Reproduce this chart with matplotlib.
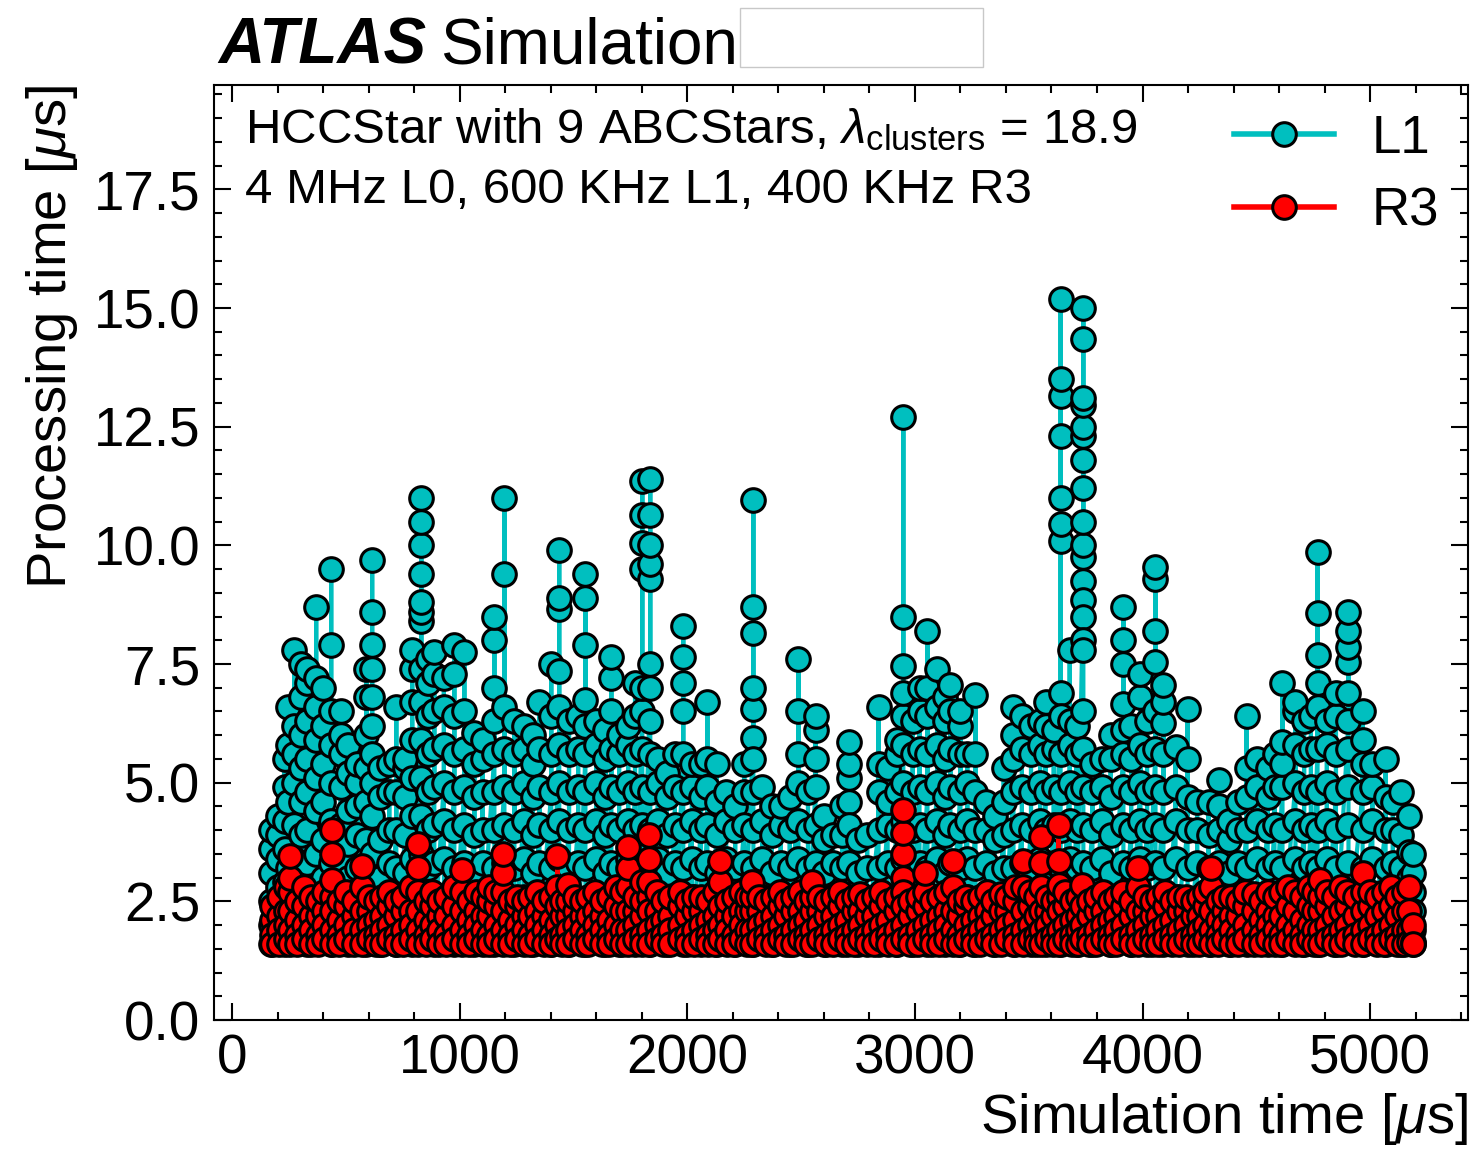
import matplotlib
matplotlib.use("Agg")
import matplotlib.pyplot as plt
from matplotlib.ticker import MultipleLocator, FormatStrFormatter
from matplotlib.patches import Rectangle

plt.rcParams['font.family'] = ['Liberation Sans', 'DejaVu Sans']
plt.rcParams['mathtext.fontset'] = 'custom'
plt.rcParams['mathtext.rm'] = 'Liberation Sans'
plt.rcParams['mathtext.it'] = 'Liberation Sans:italic'
plt.rcParams['mathtext.bf'] = 'Liberation Sans:bold'

# L1 processing times [us], grouped in bursts of events at (nearly) the same simulation time [us]
l1_time = [170, 200, 230, 246, 272, 300, 330, 369, 400, 435,
           479, 510, 550, 590, 615, 650, 690, 721, 760, 791,
           831, 860, 888, 930, 976, 1020, 1064, 1100, 1152, 1196,
           1240, 1280, 1320, 1350, 1402, 1437, 1480, 1520, 1552, 1600,
           1640, 1666, 1700, 1740, 1770, 1802, 1837, 1870, 1910, 1945,
           1982, 2020, 2060, 2088, 2130, 2170, 2210, 2250, 2290, 2330,
           2370, 2410, 2450, 2488, 2530, 2563, 2600, 2640, 2680, 2708,
           2750, 2790, 2840, 2880, 2920, 2949, 2990, 3020, 3055, 3099,
           3130, 3156, 3200, 3230, 3266, 3310, 3350, 3390, 3433, 3470,
           3510, 3550, 3574, 3610, 3640, 3680, 3710, 3740, 3780, 3820,
           3860, 3916, 3950, 3991, 4020, 4057, 4092, 4145, 4198, 4240,
           4290, 4334, 4380, 4420, 4457, 4505, 4550, 4580, 4615, 4672,
           4710, 4740, 4769, 4810, 4850, 4905, 4967, 5010, 5068, 5100,
           5134, 5169, 5190]
l1_proc = [
    [1.6, 2.0, 2.5, 3.1, 3.6, 4.0],
    [1.7, 2.2, 2.8, 3.4, 3.9, 4.3],
    [1.6, 2.3, 2.9, 3.6, 4.2, 4.9, 5.5],
    [2.0, 3.2, 4.6, 5.8, 6.6],
    [1.8, 2.6, 3.4, 4.1, 5.0, 5.6, 6.2, 7.8],
    [1.7, 2.4, 3.1, 3.9, 4.6, 5.3, 6.0, 6.8, 7.5],
    [1.6, 2.5, 3.3, 4.0, 4.8, 5.5, 6.3, 7.1, 7.4],
    [1.8, 2.7, 3.5, 4.4, 5.1, 5.9, 6.6, 7.2, 8.7],
    [1.7, 2.3, 3.0, 3.8, 4.6, 5.4, 6.2, 7.0],
    [1.6, 2.4, 3.3, 4.2, 5.0, 5.8, 6.5, 7.9, 9.5],
    [1.7, 2.6, 3.4, 4.1, 4.9, 5.6, 6.0, 6.5],
    [1.6, 2.2, 3.0, 3.7, 4.4, 5.2, 5.8],
    [1.8, 2.5, 3.2, 3.9, 4.5, 5.0, 5.4],
    [1.6, 2.3, 3.1, 3.8, 4.6, 5.3, 6.0, 6.8, 7.4],
    [1.7, 2.6, 3.5, 4.3, 5.0, 5.6, 6.2, 6.8, 7.4, 7.9, 8.6, 9.7],
    [1.6, 2.3, 3.0, 3.8, 4.7, 5.3],
    [1.8, 2.5, 3.3, 4.0, 4.8, 5.4],
    [1.6, 2.4, 3.2, 4.0, 4.8, 5.5, 6.6],
    [1.7, 2.3, 3.1, 3.9, 4.7, 5.3, 5.5],
    [1.6, 2.5, 3.4, 4.3, 5.1, 5.9, 6.7, 7.4, 7.8],
    [1.8, 2.6, 3.5, 4.3, 5.1, 5.9, 6.7, 7.4, 8.4, 8.6, 8.8, 9.4, 10.0, 10.5, 11.0],
    [1.7, 2.4, 3.2, 4.0, 4.8, 5.6, 6.4, 7.1, 7.6],
    [1.6, 2.5, 3.3, 4.1, 4.9, 5.7, 6.5, 7.3, 7.75],
    [1.8, 2.6, 3.4, 4.2, 5.0, 5.8, 6.6, 7.2],
    [1.6, 2.4, 3.2, 4.0, 4.8, 5.6, 6.4, 7.3, 7.9],
    [1.7, 2.5, 3.3, 4.1, 4.9, 5.7, 6.5, 7.75],
    [1.6, 2.3, 3.1, 3.9, 4.7, 5.4, 6.05],
    [1.8, 2.5, 3.3, 4.0, 4.8, 5.5, 5.9],
    [1.6, 2.4, 3.2, 4.0, 4.8, 5.6, 6.3, 7.0, 8.0, 8.5],
    [1.7, 2.5, 3.3, 4.1, 4.9, 5.7, 6.6, 9.4, 11.0],
    [1.6, 2.4, 3.2, 4.0, 4.8, 5.6, 6.3],
    [1.8, 2.6, 3.4, 4.2, 5.0, 5.7, 6.2],
    [1.6, 2.3, 3.1, 3.9, 4.7, 5.4, 6.0],
    [1.7, 2.5, 3.3, 4.1, 4.9, 5.7, 6.7],
    [1.6, 2.4, 3.2, 4.0, 4.8, 5.6, 6.4, 7.5],
    [1.8, 2.6, 3.4, 4.2, 5.0, 5.8, 6.6, 7.35, 8.65, 8.9, 9.9],
    [1.6, 2.4, 3.2, 4.0, 4.8, 5.6, 6.3],
    [1.7, 2.5, 3.3, 4.1, 4.9, 5.7, 6.4],
    [1.6, 2.4, 3.2, 4.0, 4.8, 5.6, 6.2, 6.75, 7.9, 8.9, 9.4],
    [1.8, 2.6, 3.4, 4.2, 5.0, 5.8, 6.3],
    [1.6, 2.3, 3.1, 3.9, 4.7, 5.5, 6.1],
    [1.7, 2.5, 3.3, 4.1, 4.9, 5.7, 6.5, 7.2, 7.65],
    [1.6, 2.4, 3.2, 4.0, 4.8, 5.6, 6.0],
    [1.8, 2.6, 3.4, 4.2, 5.0, 5.8, 6.2],
    [1.6, 2.4, 3.2, 4.0, 4.8, 5.6, 6.4, 7.1],
    [1.7, 2.5, 3.3, 4.1, 4.9, 5.7, 6.5, 7.0, 9.5, 10.05, 10.65, 11.35],
    [1.6, 2.4, 3.2, 4.0, 4.8, 5.6, 6.3, 7.0, 7.5, 9.3, 9.6, 10.0, 10.65, 11.4],
    [1.8, 2.6, 3.4, 4.2, 5.0, 5.5],
    [1.6, 2.3, 3.1, 3.9, 4.7, 5.2],
    [1.7, 2.5, 3.3, 4.1, 4.9, 5.6],
    [1.6, 2.4, 3.2, 4.0, 4.8, 5.6, 6.5, 7.1, 7.65, 8.3],
    [1.8, 2.6, 3.4, 4.2, 4.9, 5.4],
    [1.6, 2.4, 3.2, 4.0, 4.7, 5.4],
    [1.7, 2.5, 3.3, 4.1, 4.9, 5.5, 6.7],
    [1.6, 2.3, 3.1, 3.9, 4.6, 5.4],
    [1.8, 2.6, 3.4, 4.2, 4.8],
    [1.6, 2.4, 3.2, 4.0, 4.5],
    [1.7, 2.5, 3.3, 4.1, 4.8, 5.4],
    [1.6, 2.4, 3.2, 4.0, 4.8, 5.5, 5.95, 6.55, 7.0, 8.15, 8.7, 10.95],
    [1.8, 2.6, 3.4, 4.2, 4.9],
    [1.6, 2.3, 3.1, 3.9, 4.5],
    [1.7, 2.5, 3.3, 4.1, 4.5],
    [1.6, 2.4, 3.2, 4.0, 4.7],
    [1.8, 2.6, 3.4, 4.2, 5.0, 5.6, 6.5, 7.6],
    [1.6, 2.4, 3.2, 4.0, 4.8],
    [1.7, 2.5, 3.3, 4.1, 4.9, 5.5, 6.1, 6.4],
    [1.6, 2.3, 3.1, 3.8, 4.3],
    [1.8, 2.6, 3.3, 3.9],
    [1.6, 2.4, 3.2, 3.9, 4.5],
    [1.7, 2.5, 3.3, 4.1, 4.6, 5.1, 5.4, 5.85],
    [1.6, 2.4, 3.1, 3.8],
    [1.8, 2.5, 3.2, 3.9],
    [1.6, 2.4, 3.2, 4.0, 4.8, 5.4, 6.6],
    [1.7, 2.5, 3.3, 4.1, 4.6, 5.3],
    [1.6, 2.4, 3.2, 4.0, 4.8, 5.6, 5.9],
    [1.8, 2.6, 3.4, 4.2, 5.0, 5.8, 6.4, 6.9, 7.45, 8.5, 12.7],
    [1.6, 2.4, 3.2, 4.0, 4.8, 5.6, 6.3],
    [1.7, 2.5, 3.3, 4.1, 4.9, 5.7, 6.5, 7.0],
    [1.6, 2.4, 3.2, 4.0, 4.8, 5.6, 6.4, 7.0, 8.2],
    [1.8, 2.6, 3.4, 4.2, 5.0, 5.8, 6.6, 7.4],
    [1.6, 2.3, 3.1, 3.9, 4.7, 5.5, 6.3, 6.8],
    [1.7, 2.5, 3.3, 4.1, 4.9, 5.7, 6.5, 7.05],
    [1.6, 2.4, 3.2, 4.0, 4.8, 5.6, 6.2, 6.5],
    [1.8, 2.6, 3.4, 4.2, 5.0, 5.6],
    [1.6, 2.4, 3.2, 4.0, 4.8, 5.6, 6.85],
    [1.7, 2.5, 3.3, 4.0, 4.6],
    [1.6, 2.4, 3.1, 3.8, 4.3],
    [1.8, 2.5, 3.2, 3.9, 4.6, 5.3],
    [1.6, 2.4, 3.2, 4.0, 4.8, 5.5, 6.0, 6.6],
    [1.7, 2.5, 3.3, 4.1, 4.9, 5.7, 6.4],
    [1.6, 2.4, 3.2, 4.0, 4.8, 5.6, 6.2],
    [1.8, 2.6, 3.4, 4.2, 5.0, 5.8, 6.3],
    [1.6, 2.4, 3.2, 4.0, 4.8, 5.6, 6.2, 6.7],
    [1.7, 2.5, 3.3, 4.1, 4.9, 5.7, 6.1],
    [1.6, 2.4, 3.2, 4.0, 4.8, 5.6, 6.4, 6.9, 10.1, 10.45, 11.0, 12.3, 13.15, 13.5, 15.2],
    [1.8, 2.6, 3.4, 4.2, 5.0, 5.8, 6.3, 7.8],
    [1.6, 2.4, 3.2, 4.0, 4.8, 5.6, 6.2],
    [1.7, 2.5, 3.3, 4.1, 4.9, 5.7, 6.5, 7.8, 8.0, 8.5, 8.85, 9.25, 9.75, 10.0,
     10.5, 11.2, 11.8, 12.3, 12.5, 12.95, 13.1, 14.35, 15.0],
    [1.6, 2.4, 3.2, 4.0, 4.8, 5.4],
    [1.8, 2.6, 3.4, 4.2, 4.9, 5.5],
    [1.6, 2.3, 3.1, 3.9, 4.7, 5.5, 6.0],
    [1.7, 2.5, 3.3, 4.1, 4.9, 5.6, 6.1, 6.65, 7.5, 8.0, 8.7],
    [1.6, 2.4, 3.2, 4.0, 4.8, 5.5, 6.2],
    [1.8, 2.6, 3.4, 4.2, 5.0, 5.8, 6.8, 7.3],
    [1.6, 2.4, 3.2, 4.0, 4.8, 5.6, 6.3],
    [1.7, 2.5, 3.3, 4.1, 4.9, 5.7, 6.5, 7.55, 8.2, 9.3, 9.55],
    [1.6, 2.4, 3.2, 4.0, 4.8, 5.6, 6.25, 6.7, 7.05],
    [1.8, 2.6, 3.4, 4.2, 4.9, 5.75],
    [1.6, 2.4, 3.2, 4.0, 4.7, 5.5, 6.55],
    [1.7, 2.5, 3.3, 4.0, 4.6],
    [1.6, 2.4, 3.2, 3.9, 4.6],
    [1.8, 2.6, 3.3, 4.0, 4.5, 5.06],
    [1.6, 2.4, 3.1, 3.8, 4.2],
    [1.7, 2.5, 3.3, 4.0, 4.6],
    [1.6, 2.4, 3.2, 4.0, 4.7, 5.3, 6.4],
    [1.8, 2.6, 3.4, 4.2, 4.9, 5.5],
    [1.6, 2.4, 3.2, 4.0, 4.7, 5.3],
    [1.7, 2.5, 3.3, 4.1, 4.9, 5.6],
    [1.6, 2.4, 3.2, 4.0, 4.9, 5.4, 5.85, 7.1],
    [1.8, 2.6, 3.4, 4.2, 5.0, 5.8, 6.5, 6.7],
    [1.6, 2.4, 3.2, 4.0, 4.8, 5.6, 6.3],
    [1.7, 2.5, 3.3, 4.1, 4.9, 5.7, 6.4],
    [1.6, 2.4, 3.2, 4.0, 4.8, 5.7, 6.6, 7.1, 7.7, 8.58, 9.87],
    [1.8, 2.6, 3.4, 4.2, 5.0, 5.8, 6.3],
    [1.6, 2.4, 3.2, 4.0, 4.8, 5.6, 6.4, 6.9],
    [1.7, 2.5, 3.3, 4.1, 4.9, 5.7, 6.3, 6.9, 7.55, 7.85, 8.2, 8.6],
    [1.6, 2.4, 3.2, 4.0, 4.8, 5.4, 5.9, 6.5],
    [1.8, 2.6, 3.4, 4.2, 4.9, 5.4],
    [1.6, 2.4, 3.2, 4.0, 4.7, 5.5],
    [1.7, 2.5, 3.3, 4.0, 4.6],
    [1.6, 2.4, 3.2, 3.9, 4.8],
    [1.7, 2.5, 3.0, 3.55, 4.3],
    [1.6, 1.9, 2.3, 2.7, 3.1, 3.5],
]

# R3 processing times [us]
r3_time = [175, 205, 235, 255, 285, 315, 345, 375, 405, 440,
           470, 500, 535, 571, 600, 630, 660, 690, 720, 750,
           785, 818, 850, 880, 910, 940, 975, 1011, 1040, 1070,
           1100, 1130, 1160, 1191, 1220, 1250, 1280, 1310, 1340, 1370,
           1400, 1429, 1450, 1477, 1505, 1535, 1565, 1595, 1625, 1655,
           1685, 1712, 1741, 1770, 1800, 1833, 1865, 1895, 1925, 1969,
           2000, 2030, 2060, 2090, 2120, 2145, 2175, 2205, 2235, 2260,
           2286, 2315, 2345, 2375, 2405, 2435, 2465, 2495, 2520, 2549,
           2580, 2610, 2640, 2670, 2700, 2730, 2760, 2790, 2820, 2850,
           2880, 2915, 2949, 2980, 3015, 3046, 3075, 3105, 3135, 3165,
           3195, 3225, 3255, 3285, 3315, 3345, 3376, 3405, 3440, 3473,
           3505, 3530, 3552, 3580, 3605, 3631, 3660, 3690, 3715, 3736,
           3765, 3795, 3825, 3855, 3885, 3915, 3950, 3982, 4010, 4040,
           4070, 4100, 4130, 4160, 4190, 4220, 4250, 4275, 4299, 4330,
           4360, 4390, 4420, 4450, 4488, 4520, 4550, 4580, 4610, 4640,
           4670, 4700, 4730, 4755, 4782, 4810, 4840, 4870, 4900, 4935,
           4967, 5000, 5030, 5060, 5090, 5120, 5150, 5169, 5190]
r3_proc = [
    [1.6, 1.8, 2.1, 2.4], [1.6, 1.9, 2.2, 2.6], [1.7, 2.0, 2.3, 2.8],
    [1.6, 1.9, 2.3, 2.7, 3.0, 3.45], [1.6, 1.8, 2.1, 2.5], [1.7, 2.0, 2.4, 2.8],
    [1.6, 1.9, 2.2, 2.6], [1.6, 1.8, 2.2, 2.5], [1.7, 2.0, 2.3, 2.7],
    [1.6, 1.9, 2.3, 2.6, 2.95, 3.5, 4.0],
    [1.6, 1.8, 2.1, 2.5], [1.7, 2.0, 2.4, 2.7], [1.6, 1.9, 2.2, 2.5],
    [1.6, 1.9, 2.3, 2.8, 3.25], [1.7, 2.0, 2.3, 2.6], [1.6, 1.8, 2.1, 2.5],
    [1.6, 1.9, 2.2, 2.6], [1.7, 2.0, 2.4, 2.7], [1.6, 1.8, 2.2, 2.5],
    [1.6, 1.9, 2.3, 2.6],
    [1.7, 2.0, 2.3, 2.8], [1.6, 1.9, 2.3, 2.7, 3.2, 3.7], [1.6, 1.8, 2.1, 2.5],
    [1.7, 2.0, 2.4, 2.7], [1.6, 1.9, 2.2, 2.5], [1.6, 1.8, 2.2, 2.6],
    [1.7, 2.0, 2.4, 2.8], [1.6, 1.9, 2.3, 2.7, 3.15], [1.6, 1.8, 2.1, 2.5],
    [1.7, 2.0, 2.3, 2.7],
    [1.6, 1.9, 2.2, 2.6], [1.6, 1.8, 2.2, 2.5, 2.8], [1.7, 2.0, 2.4, 2.7],
    [1.6, 1.9, 2.3, 2.7, 3.1, 3.5], [1.6, 1.8, 2.1, 2.5], [1.7, 2.0, 2.4, 2.6],
    [1.6, 1.9, 2.2, 2.5], [1.6, 1.8, 2.2, 2.6], [1.7, 2.0, 2.3, 2.7],
    [1.6, 1.9, 2.2, 2.5],
    [1.6, 1.8, 2.1, 2.6], [1.7, 2.0, 2.4, 2.8, 3.45], [1.6, 1.8, 2.2, 2.5],
    [1.6, 1.9, 2.2, 2.5, 2.85], [1.7, 2.0, 2.3, 2.6], [1.6, 1.9, 2.2, 2.5],
    [1.6, 1.8, 2.2, 2.6], [1.7, 2.0, 2.3, 2.7], [1.6, 1.9, 2.2, 2.5],
    [1.6, 1.8, 2.1, 2.6],
    [1.7, 2.0, 2.4, 2.8], [1.6, 1.9, 2.3, 2.7], [1.6, 1.9, 2.3, 2.8, 3.2, 3.65],
    [1.7, 2.0, 2.3, 2.6], [1.6, 1.8, 2.2, 2.5, 2.9], [1.6, 1.9, 2.3, 2.6, 2.9, 3.4, 3.9],
    [1.7, 2.0, 2.3, 2.7], [1.6, 1.8, 2.1, 2.5], [1.6, 1.9, 2.2, 2.6],
    [1.7, 2.0, 2.4, 2.7],
    [1.6, 1.8, 2.2, 2.5], [1.6, 1.9, 2.3, 2.6], [1.7, 2.0, 2.3, 2.6],
    [1.6, 1.8, 2.1, 2.5], [1.6, 1.9, 2.2, 2.7], [1.7, 2.0, 2.4, 2.9, 3.35],
    [1.6, 1.9, 2.2, 2.5], [1.6, 1.8, 2.2, 2.6], [1.7, 2.0, 2.3, 2.7],
    [1.6, 1.9, 2.3, 2.6],
    [1.6, 1.9, 2.3, 2.6, 2.9], [1.7, 2.0, 2.3, 2.6], [1.6, 1.8, 2.1, 2.5],
    [1.6, 1.9, 2.2, 2.6], [1.7, 2.0, 2.4, 2.7], [1.6, 1.8, 2.2, 2.5],
    [1.6, 1.9, 2.3, 2.6], [1.7, 2.0, 2.3, 2.7], [1.6, 1.8, 2.1, 2.5],
    [1.6, 1.9, 2.3, 2.6, 2.9],
    [1.7, 2.0, 2.3, 2.6], [1.6, 1.8, 2.2, 2.5], [1.6, 1.9, 2.2, 2.6],
    [1.7, 2.0, 2.4, 2.7], [1.6, 1.8, 2.1, 2.5], [1.6, 1.9, 2.3, 2.6],
    [1.7, 2.0, 2.3, 2.65], [1.6, 1.8, 2.2, 2.5], [1.6, 1.9, 2.2, 2.6],
    [1.7, 2.0, 2.4, 2.7],
    [1.6, 1.8, 2.1, 2.5], [1.6, 1.9, 2.3, 2.6], [1.7, 2.0, 2.4, 2.7, 3.0, 3.5, 3.95, 4.43],
    [1.6, 1.8, 2.2, 2.5], [1.6, 1.9, 2.3, 2.6], [1.7, 2.0, 2.4, 2.7, 3.1],
    [1.6, 1.8, 2.1, 2.5], [1.6, 1.9, 2.2, 2.6], [1.7, 2.0, 2.3, 2.7],
    [1.6, 1.9, 2.3, 2.8, 3.35],
    [1.6, 1.8, 2.2, 2.5], [1.7, 2.0, 2.4, 2.6], [1.6, 1.8, 2.1, 2.5],
    [1.6, 1.9, 2.2, 2.6], [1.7, 2.0, 2.3, 2.7], [1.6, 1.8, 2.2, 2.5],
    [1.6, 1.9, 2.3, 2.65], [1.7, 2.0, 2.3, 2.6], [1.6, 1.8, 2.1, 2.5, 2.8],
    [1.6, 1.9, 2.3, 2.8, 3.35],
    [1.7, 2.0, 2.4, 2.7], [1.6, 1.8, 2.2, 2.6], [1.6, 1.9, 2.3, 2.8, 3.3, 3.85],
    [1.7, 2.0, 2.3, 2.6], [1.6, 1.8, 2.2, 2.5], [1.6, 1.9, 2.3, 2.6, 2.85, 3.35, 4.1],
    [1.7, 2.0, 2.4, 2.7], [1.6, 1.8, 2.1, 2.5], [1.6, 1.9, 2.2, 2.6],
    [1.7, 2.0, 2.4, 2.85],
    [1.6, 1.8, 2.2, 2.5], [1.6, 1.9, 2.3, 2.6], [1.7, 2.0, 2.3, 2.7],
    [1.6, 1.8, 2.1, 2.5], [1.6, 1.9, 2.2, 2.6], [1.7, 2.0, 2.4, 2.7],
    [1.6, 1.8, 2.2, 2.5], [1.6, 1.9, 2.3, 2.8, 3.2], [1.7, 2.0, 2.3, 2.6],
    [1.6, 1.8, 2.2, 2.5],
    [1.6, 1.9, 2.2, 2.6], [1.7, 2.0, 2.4, 2.7], [1.6, 1.8, 2.1, 2.5],
    [1.6, 1.9, 2.3, 2.6], [1.7, 2.0, 2.3, 2.6], [1.6, 1.8, 2.2, 2.5],
    [1.6, 1.9, 2.2, 2.6], [1.7, 2.0, 2.4, 2.7], [1.6, 1.9, 2.3, 2.8, 3.2],
    [1.6, 1.8, 2.1, 2.5],
    [1.7, 2.0, 2.3, 2.6], [1.6, 1.9, 2.2, 2.6], [1.6, 1.8, 2.2, 2.5],
    [1.7, 2.0, 2.4, 2.7], [1.6, 1.9, 2.3, 2.65], [1.6, 1.8, 2.1, 2.5],
    [1.7, 2.0, 2.3, 2.7], [1.6, 1.9, 2.2, 2.6], [1.6, 1.8, 2.2, 2.7],
    [1.7, 2.0, 2.4, 2.8],
    [1.6, 1.9, 2.3, 2.7], [1.6, 1.8, 2.1, 2.6], [1.7, 2.0, 2.4, 2.8],
    [1.6, 1.9, 2.3, 2.7], [1.6, 1.9, 2.3, 2.6, 2.95], [1.7, 2.0, 2.4, 2.7],
    [1.6, 1.8, 2.2, 2.6], [1.6, 1.9, 2.3, 2.8], [1.7, 2.0, 2.4, 2.7],
    [1.6, 1.8, 2.2, 2.6],
    [1.6, 1.9, 2.3, 2.7, 3.1], [1.7, 2.0, 2.4, 2.7], [1.6, 1.8, 2.2, 2.6],
    [1.6, 1.9, 2.3, 2.7], [1.7, 2.0, 2.4, 2.8], [1.6, 1.8, 2.2, 2.6],
    [1.6, 1.9, 2.3, 2.7], [1.65, 1.9, 2.3, 2.8], [1.6, 1.65, 2.0],
]


def stem_order(vals):
    # go up from the middle of a burst to its peak, then back down,
    # so the line from a peak falls straight down like in the original
    v = sorted(vals)
    k = len(v) // 2
    return v[k:] + v[:k][::-1]


def flatten(times, procs):
    xs, ys = [], []
    for t, vals in zip(times, procs):
        for v in stem_order(vals):
            xs.append(t)
            ys.append(v)
    return xs, ys


l1_x, l1_y = flatten(l1_time, l1_proc)
r3_x, r3_y = flatten(r3_time, r3_proc)

fig = plt.figure(figsize=(14.74, 11.51), dpi=100)
ax = fig.add_axes([0.1452, 0.1138, 0.8507, 0.8124])

ax.plot(l1_x, l1_y, '-o', color='c', mfc='c', mec='k', ms=17, mew=2.2, lw=3, label='L1')
ax.plot(r3_x, r3_y, '-o', color='r', mfc='r', mec='k', ms=17, mew=2.2, lw=3, label='R3')

ax.set_xlim(-80, 5430)
ax.set_ylim(0, 19.7)
ax.xaxis.set_major_locator(MultipleLocator(1000))
ax.xaxis.set_minor_locator(MultipleLocator(200))
ax.yaxis.set_major_locator(MultipleLocator(2.5))
ax.yaxis.set_minor_locator(MultipleLocator(0.5))
ax.yaxis.set_major_formatter(FormatStrFormatter('%.1f'))
ax.tick_params(which='both', direction='in', top=True, right=True, width=1.5, labelsize=39.5, pad=10)
ax.tick_params(which='major', length=12)
ax.tick_params(which='minor', length=6)
for s in ax.spines.values():
    s.set_linewidth(1.5)

ax.set_xlabel(r'Simulation time [$\mu$s]', fontsize=40.5, loc='right')
ax.set_ylabel(r'Processing time [$\mu$s]', fontsize=40.5, loc='top')
ax.xaxis.set_label_coords(1.0, -0.076)
ax.yaxis.set_label_coords(-0.107, 1.0)

ax.text(0.0247, 0.938, r'HCCStar with 9 ABCStars, $\lambda_{\mathrm{clusters}}$ = 18.9',
        transform=ax.transAxes, fontsize=35.5, va='baseline')
ax.text(0.0247, 0.874, '4 MHz L0, 600 KHz L1, 400 KHz R3',
        transform=ax.transAxes, fontsize=35.5, va='baseline')

leg = ax.legend(loc='upper right', frameon=False, fontsize=38, numpoints=1,
                handlelength=1.9, handletextpad=0.7, labelspacing=0.42,
                borderaxespad=0.25, borderpad=0.3)
for h in leg.get_lines():
    h.set_linewidth(4)

fig.text(0.148, 0.945, 'ATLAS', fontsize=46, fontweight='bold', style='italic', va='baseline')
fig.text(0.2985, 0.945, 'Simulation', fontsize=46, va='baseline')
fig.patches.append(Rectangle((0.502, 0.9418), 0.1649, 0.0513, transform=fig.transFigure,
                             facecolor='white', edgecolor='#c8c8c8', lw=1))

fig.savefig('out.png', dpi=100)
